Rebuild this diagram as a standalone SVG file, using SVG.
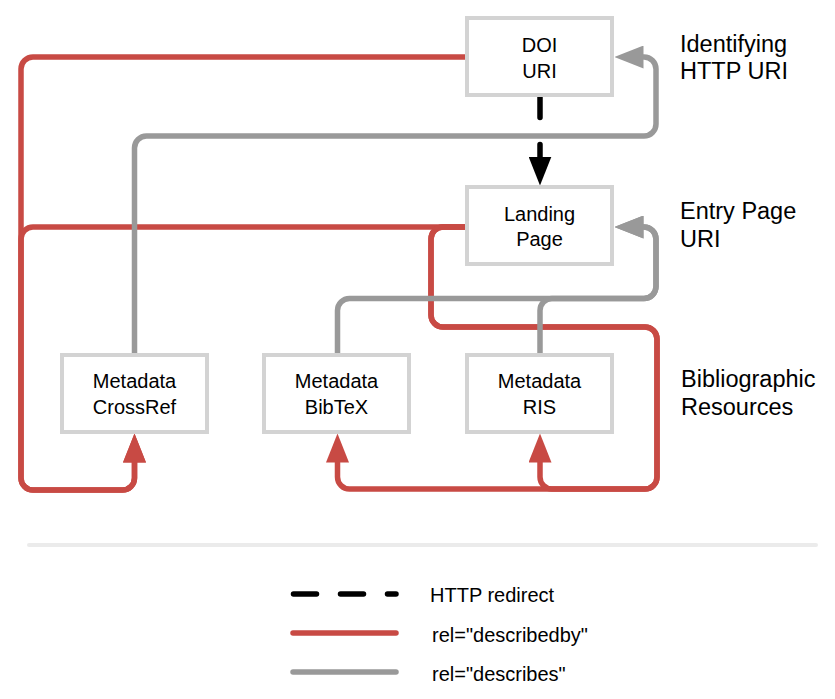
<svg xmlns="http://www.w3.org/2000/svg" width="835" height="699" viewBox="0 0 835 699">
<style>
.box{fill:#fff;stroke:#d3d3d3;stroke-width:4}
.bt{font-family:"Liberation Sans",Arial,sans-serif;font-size:20px;fill:#000;text-anchor:middle}
.lab{font-family:"Liberation Sans",Arial,sans-serif;font-size:23.5px;fill:#000}
.leg{font-family:"Liberation Sans",Arial,sans-serif;font-size:20px;fill:#000}
.red{fill:none;stroke:#c84a44;stroke-width:5.5;stroke-linecap:round}
.gray{fill:none;stroke:#999;stroke-width:5.5;stroke-linecap:round}
.blk{fill:none;stroke:#000;stroke-width:5.5;stroke-linecap:round;stroke-dasharray:21 27}
</style>
<defs>
<marker id="aRed" markerUnits="userSpaceOnUse" viewBox="0 0 29 23" markerWidth="29" markerHeight="23" refX="0.5" refY="11.5" orient="auto"><path d="M0,0L29,11.5L0,23z" fill="#c84a44"/></marker>
<marker id="aGray" markerUnits="userSpaceOnUse" viewBox="0 0 29 23" markerWidth="29" markerHeight="23" refX="0.5" refY="11.5" orient="auto"><path d="M0,0L29,11.5L0,23z" fill="#999"/></marker>
<marker id="aBlk" markerUnits="userSpaceOnUse" viewBox="0 0 29 23" markerWidth="29" markerHeight="23" refX="0.5" refY="11.5" orient="auto"><path d="M0,0L29,11.5L0,23z" fill="#000"/></marker>
</defs>
<g id="connectors">
<path class="red" d="M466,57H33A12,12 0 0 0 21,69V478A12,12 0 0 0 33,490H122.5A12,12 0 0 0 134.5,478V462" marker-end="url(#aRed)"/>
<path class="red" d="M466,227H33A12,12 0 0 0 21,239V478A12,12 0 0 0 33,490H122.5A12,12 0 0 0 134.5,478V462" marker-end="url(#aRed)"/>
<path class="red" d="M466,227H443A12,12 0 0 0 431,239V315A12,12 0 0 0 443,327H645A12,12 0 0 1 657,339V477A12,12 0 0 1 645,489H349.5A12,12 0 0 1 337.5,477V462" marker-end="url(#aRed)"/>
<path class="red" d="M466,227H443A12,12 0 0 0 431,239V315A12,12 0 0 0 443,327H645A12,12 0 0 1 657,339V477A12,12 0 0 1 645,489H552A12,12 0 0 1 540,477V462" marker-end="url(#aRed)"/>
<path class="gray" d="M134.5,354V148A12,12 0 0 1 146.5,136H644A12,12 0 0 0 656,124V69A12,12 0 0 0 644,57H643" marker-end="url(#aGray)"/>
<path class="gray" d="M337.5,354V310.5A12,12 0 0 1 349.5,298.5H644A12,12 0 0 0 656,286.5V239A12,12 0 0 0 644,227H643" marker-end="url(#aGray)"/>
<path class="gray" d="M540,354V310.5A12,12 0 0 1 552,298.5H644A12,12 0 0 0 656,286.5V239A12,12 0 0 0 644,227H643" marker-end="url(#aGray)"/>
<path class="blk" d="M540,96.5V157" marker-end="url(#aBlk)"/>
</g>
<g id="doi"><rect class="box" x="467" y="18" width="145" height="77"/><text class="bt" x="539.5" y="52">DOI</text><text class="bt" x="539.5" y="78">URI</text></g>
<g id="landing"><rect class="box" x="467" y="187" width="145" height="77"/><text class="bt" x="539.5" y="221">Landing</text><text class="bt" x="539.5" y="246">Page</text></g>
<g id="crossref"><rect class="box" x="62" y="355" width="145" height="77"/><text class="bt" x="134.5" y="388">Metadata</text><text class="bt" x="134.5" y="414">CrossRef</text></g>
<g id="bibtex"><rect class="box" x="264" y="355" width="145" height="77"/><text class="bt" x="336.5" y="388">Metadata</text><text class="bt" x="336.5" y="414">BibTeX</text></g>
<g id="ris"><rect class="box" x="467" y="355" width="145" height="77"/><text class="bt" x="539.5" y="388">Metadata</text><text class="bt" x="539.5" y="414">RIS</text></g>
<g id="labels">
<text class="lab" x="680" y="52">Identifying</text><text class="lab" x="680" y="79">HTTP URI</text>
<text class="lab" x="680" y="219">Entry Page</text><text class="lab" x="680" y="247">URI</text>
<text class="lab" x="681" y="387">Bibliographic</text><text class="lab" x="681" y="415">Resources</text>
</g>
<line x1="29" y1="545" x2="816" y2="545" stroke="#ebebeb" stroke-width="4" stroke-linecap="round"/>
<g id="legend">
<path d="M293.5,594H396" fill="none" stroke="#000" stroke-width="5.5" stroke-linecap="round" stroke-dasharray="23 24"/>
<text class="leg" x="430" y="602">HTTP redirect</text>
<path d="M293,633H396" class="red"/>
<text class="leg" x="432" y="642">rel="describedby"</text>
<path d="M293,672H396" class="gray"/>
<text class="leg" x="432" y="681">rel="describes"</text>
</g>
</svg>
